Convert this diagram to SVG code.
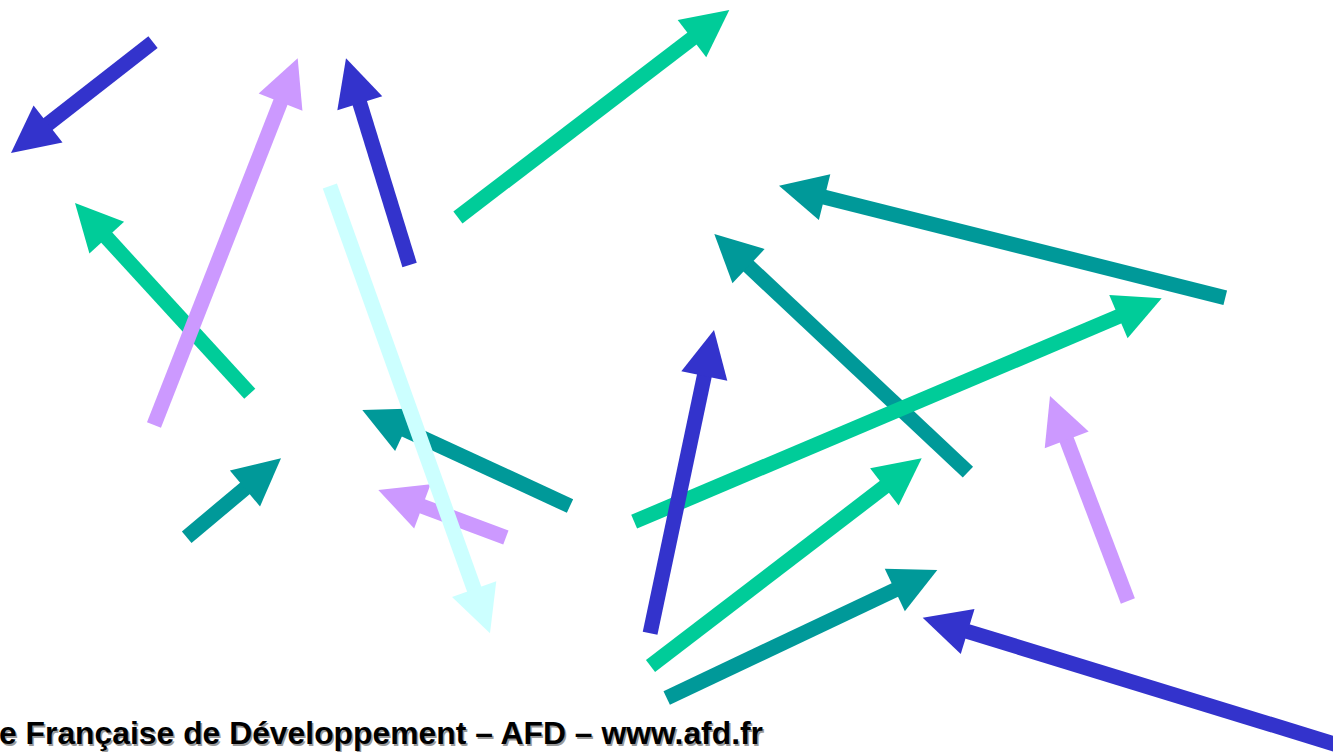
<svg xmlns="http://www.w3.org/2000/svg" xmlns:xlink="http://www.w3.org/1999/xlink" width="1333" height="752" viewBox="0 0 1333 752">
<style>
.blue{fill:#3333CC}.lav{fill:#CC99FF}.green{fill:#00CC99}.teal{fill:#009999}.cyan{fill:#CCFFFF}
.foot{font-family:"Liberation Sans",Arial,sans-serif;font-weight:bold;font-size:32px}
</style>
<defs>
<polygon id="head" points="0,0 -47,-23.5 -47,23.5"/>
</defs>
<rect width="1333" height="752" fill="#FFFFFF"/>
<g id="arrows">
<g id="a5" class="green" transform="translate(75 203) rotate(-132.5)"><rect x="-258.7" y="-7.5" width="214.7" height="15"/><use href="#head" xlink:href="#head"/></g>
<g id="a2" class="lav" transform="translate(297.7 58.3) rotate(-68.6)"><rect x="-393.9" y="-7.5" width="349.9" height="15"/><use href="#head" xlink:href="#head"/></g>
<g id="a1" class="blue" transform="translate(11 153) rotate(142)"><rect x="-180.2" y="-7.5" width="136.2" height="15"/><use href="#head" xlink:href="#head"/></g>
<g id="a3" class="blue" transform="translate(346 58.3) rotate(-107.1)"><rect x="-216.2" y="-7.5" width="172.2" height="15"/><use href="#head" xlink:href="#head"/></g>
<g id="a6" class="teal" transform="translate(281 458.3) rotate(-39.9)"><rect x="-122.9" y="-7.5" width="78.9" height="15"/><use href="#head" xlink:href="#head"/></g>
<g id="a7" class="green" transform="translate(729.3 10) rotate(-37.4)"><rect x="-341.6" y="-7.5" width="297.6" height="15"/><use href="#head" xlink:href="#head"/></g>
<g id="a8" class="teal" transform="translate(362.3 410) rotate(-155.2)"><rect x="-228.8" y="-7.5" width="184.8" height="15"/><use href="#head" xlink:href="#head"/></g>
<g id="a9" class="lav" transform="translate(378.3 490) rotate(-159.6)"><rect x="-136.1" y="-7.5" width="92.1" height="15"/><use href="#head" xlink:href="#head"/></g>
<g id="a4" class="cyan" transform="translate(490 633.3) rotate(70.3)"><rect x="-475.1" y="-7.5" width="431.1" height="15"/><use href="#head" xlink:href="#head"/></g>
<g id="a12" class="teal" transform="translate(714.3 234) rotate(-136.8)"><rect x="-347.9" y="-7.5" width="303.9" height="15"/><use href="#head" xlink:href="#head"/></g>
<g id="a13" class="teal" transform="translate(779 185.7) rotate(-165.9)"><rect x="-460.1" y="-7.5" width="416.1" height="15"/><use href="#head" xlink:href="#head"/></g>
<g id="a11" class="green" transform="translate(1161.7 298.3) rotate(-22.95)"><rect x="-572.9" y="-7.5" width="528.9" height="15"/><use href="#head" xlink:href="#head"/></g>
<g id="a10" class="blue" transform="translate(714 330) rotate(-78.1)"><rect x="-309.9" y="-7.5" width="265.9" height="15"/><use href="#head" xlink:href="#head"/></g>
<g id="a14" class="green" transform="translate(921.7 458.3) rotate(-37.45)"><rect x="-341.6" y="-7.5" width="297.6" height="15"/><use href="#head" xlink:href="#head"/></g>
<g id="a15" class="teal" transform="translate(937.3 570) rotate(-25.3)"><rect x="-299.3" y="-7.5" width="255.3" height="15"/><use href="#head" xlink:href="#head"/></g>
<g id="a16" class="blue" transform="translate(922.7 617.7) rotate(-162.95)"><rect x="-450" y="-7.5" width="406" height="15"/><use href="#head" xlink:href="#head"/></g>
<g id="a17" class="lav" transform="translate(1050 396) rotate(-110.8)"><rect x="-219.3" y="-7.5" width="175.3" height="15"/><use href="#head" xlink:href="#head"/></g>
</g>
<g id="footer">
<text class="foot" x="0.5" y="745.5" textLength="764" lengthAdjust="spacingAndGlyphs" fill="#9A9A9A">e Française de Développement – AFD – www.afd.fr</text>
<text class="foot" x="-1" y="744" textLength="764" lengthAdjust="spacingAndGlyphs" fill="#000000">e Française de Développement – AFD – www.afd.fr</text>
</g>
</svg>
